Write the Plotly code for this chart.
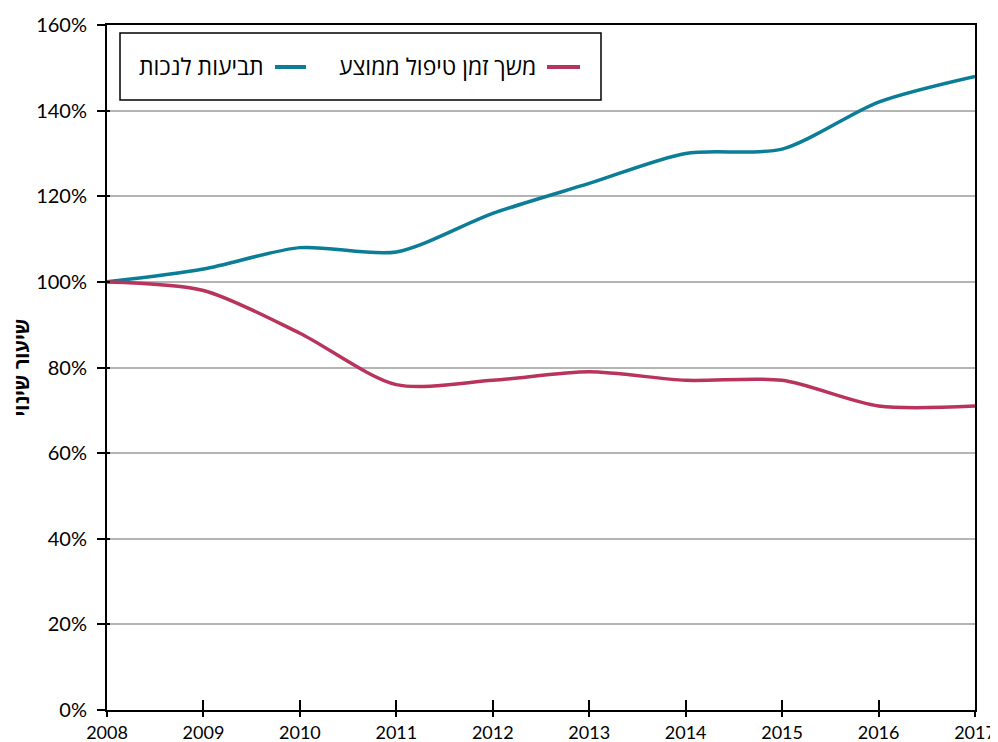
import plotly.graph_objects as go

years = [2008, 2009, 2010, 2011, 2012, 2013, 2014, 2015, 2016, 2017]
claims = [100, 103, 108, 107, 116, 123, 130, 131, 142, 148]
duration = [100, 98, 88, 76, 77, 79, 77, 77, 71, 71]
name_claims = "תביעות לנכות"
name_duration = "משך זמן טיפול ממוצע"
yticks = [0, 20, 40, 60, 80, 100, 120, 140, 160]

teal = "#0c7d96"
red = "#b8345c"
font = "Lato"
hfont = "Open Sans"

fig = go.Figure()
fig.add_trace(go.Scatter(x=years, y=claims, mode="lines", line=dict(color=teal, width=3.5, shape="spline", smoothing=0.8), name=name_claims, showlegend=False))
fig.add_trace(go.Scatter(x=years, y=duration, mode="lines", line=dict(color=red, width=3.5, shape="spline", smoothing=0.8), name=name_duration, showlegend=False))

common_x = dict(range=[2008, 2017], tickvals=years, zeroline=False, automargin=False, showgrid=False)
common_y = dict(range=[0, 160], tickvals=yticks, zeroline=False, automargin=False)

fig.update_layout(
    width=990, height=734,
    margin=dict(l=99, r=23, t=17, b=32),
    plot_bgcolor="white", paper_bgcolor="white",
    font=dict(family=font, size=18, color="black"),
    xaxis=dict(**common_x, ticktext=[str(y) for y in years],
               showline=True, linecolor="black", linewidth=2, mirror=True,
               ticks="outside", ticklen=5, tickwidth=1.5, tickcolor="black",
               ticklabelstandoff=0, ticklabeloverflow="allow", tickfont=dict(size=18, family=font)),
    yaxis=dict(**common_y, ticktext=[f"{v}%" for v in yticks],
               showgrid=True, gridcolor="#b4b4b4", gridwidth=1.5,
               showline=True, linecolor="black", linewidth=2, mirror=True,
               ticks="outside", ticklen=8, tickwidth=1.5, tickcolor="black",
               ticklabelstandoff=6, ticklabeloverflow="allow",
               title=dict(text="<b>שיעור שינוי</b>", font=dict(size=20, family=hfont), standoff=10),
               tickfont=dict(size=20, family=font)),
    # duplicate axes for the inner half of crossing tick marks
    xaxis2=dict(**common_x, overlaying="x", ticks="inside", ticklen=10, tickwidth=1.5, tickcolor="black",
                showticklabels=False, showline=False),
    yaxis2=dict(**common_y, overlaying="y", ticks="inside", ticklen=3, tickwidth=1.5, tickcolor="black",
                showticklabels=False, showline=False, showgrid=False),
)
fig.add_trace(go.Scatter(x=[years[0]], y=[yticks[0]], xaxis="x2", yaxis="y2", mode="markers",
                         marker=dict(opacity=0), showlegend=False, hoverinfo="skip"))

# Legend (RTL style)
def px2x(px):
    return (px - 107) / 868

def py2y(py):
    return (710 - py) / 685

fig.add_shape(type="rect", xref="paper", yref="paper", x0=px2x(120), x1=px2x(601), y0=py2y(100), y1=py2y(33),
              line=dict(color="black", width=1.5), fillcolor="white", layer="above")
fig.add_shape(type="line", xref="paper", yref="paper", x0=px2x(547), x1=px2x(580), y0=py2y(67), y1=py2y(67),
              line=dict(color=red, width=4))
fig.add_shape(type="line", xref="paper", yref="paper", x0=px2x(275), x1=px2x(306), y0=py2y(67), y1=py2y(67),
              line=dict(color=teal, width=4))
fig.add_annotation(xref="paper", yref="paper", x=px2x(538), y=py2y(66), text=name_duration, showarrow=False,
                   xanchor="right", yanchor="middle", font=dict(size=23, family=hfont))
fig.add_annotation(xref="paper", yref="paper", x=px2x(266), y=py2y(66), text=name_claims, showarrow=False,
                   xanchor="right", yanchor="middle", font=dict(size=23, family=hfont))

fig.write_html("out.html")
